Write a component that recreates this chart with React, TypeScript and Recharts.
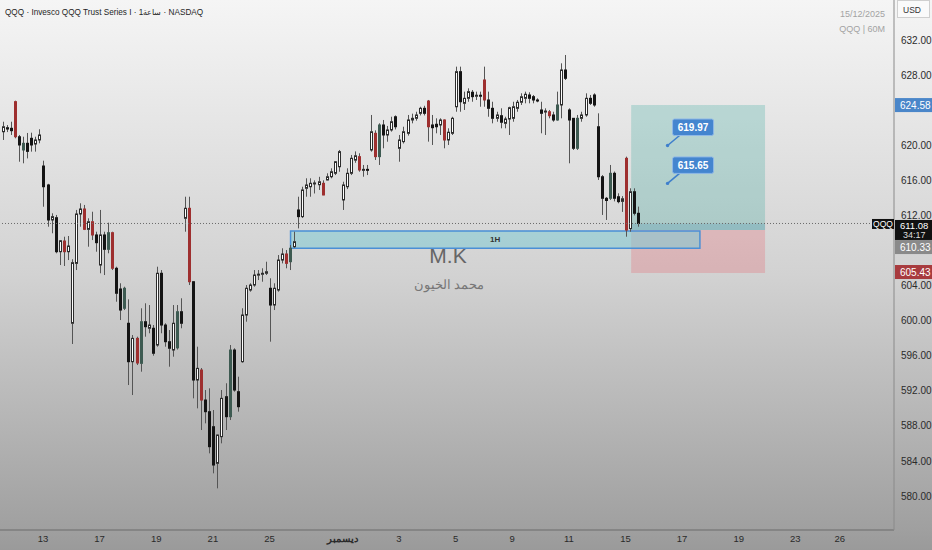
import React from "react";
import {
  ComposedChart,
  Bar,
  XAxis,
  YAxis,
  ReferenceArea,
  ReferenceLine,
  ReferenceDot,
} from "recharts";

const FONT = "'Liberation Sans', Arial, sans-serif";

// hourly candles, bar index 0 = 13 Nov 09:30
const FIRST_BAR = -10;

const opens = [
  621.54, 622.0, 621.93, 624.97, 620.97, 619.46, 620.22, 620.79, 620.14, 620.6,
  617.63, 615.47, 611.48, 611.74, 607.86, 609.08, 607.86, 599.7, 606.53, 612.16,
  612.73, 610.41, 611.28, 609.77, 606.34, 609.77, 608.13, 610.03, 605.97, 603.61,
  601.41, 599.7, 595.32, 597.98, 595.13, 599.88, 599.13, 599.13, 597.22, 605.4,
  599.5, 597.6, 596.65, 596.9, 601.02, 611.67, 612.81, 604.44, 593.23, 594.37,
  590.95, 589.62, 587.91, 583.73, 586.77, 591.33, 589.05, 596.65, 591.9, 595.32,
  600.64, 603.49, 604.06, 605.2, 605.35, 605.4, 603.69, 601.78, 603.49, 606.91,
  607.6, 606.72, 608.43, 612.62, 611.86, 615.09, 615.27, 615.66, 615.5, 615.66,
  616.04, 616.41, 616.8, 617.55, 613.76, 615.27, 616.8, 618.3, 618.7, 617.18,
  617.25, 619.46, 621.36, 618.7, 622.31, 621.17, 621.74, 623.25, 619.65, 620.41,
  621.36, 622.88, 623.07, 623.64, 624.21, 625.04, 622.31, 622.39, 622.31, 622.88,
  620.6, 621.36, 624.39, 628.39, 624.78, 625.35, 626.04, 625.6, 625.7, 627.44,
  625.16, 624.21, 623.07, 623.37, 622.5, 622.99, 623.07, 624.21, 624.9, 625.35,
  625.73, 625.54, 625.16, 624.02, 623.8, 623.82, 623.45, 622.88, 624.59, 628.58,
  624.02, 623.07, 619.65, 623.07, 623.45, 625.35, 625.73, 622.11, 616.41, 613.95,
  613.95, 616.8, 614.13, 613.6, 618.51, 610.5, 614.7, 612.24,
];

const highs = [
  622.68, 622.3, 622.68, 625.08, 621.17, 620.97, 621.4, 621.43, 620.97, 621.82,
  618.24, 615.6, 612.24, 612.05, 609.19, 609.57, 609.65, 607.0, 612.62, 613.38,
  613.19, 611.67, 612.42, 610.14, 612.62, 610.14, 611.17, 610.14, 606.15, 604.26,
  603.87, 602.43, 598.36, 598.17, 601.41, 601.98, 601.78, 599.5, 606.15, 605.77,
  599.7, 598.93, 601.78, 601.78, 602.55, 614.13, 614.13, 604.5, 597.03, 594.6,
  592.09, 592.28, 589.81, 587.0, 592.09, 592.86, 597.22, 596.85, 593.61, 601.41,
  604.06, 604.26, 605.77, 605.77, 605.97, 606.72, 604.83, 604.26, 607.48, 608.25,
  608.05, 608.62, 610.14, 614.13, 615.27, 616.23, 616.23, 616.0, 616.4, 616.0,
  616.8, 617.37, 618.2, 619.46, 615.84, 617.37, 618.89, 619.3, 619.08, 617.75,
  617.75, 623.45, 621.7, 622.5, 622.88, 622.2, 623.25, 623.4, 621.17, 622.11,
  623.45, 623.6, 623.82, 624.39, 624.5, 625.16, 623.45, 623.07, 623.07, 622.95,
  621.93, 623.25, 628.96, 628.96, 626.11, 626.49, 626.3, 626.11, 626.11, 628.96,
  626.11, 624.96, 623.82, 624.21, 623.25, 624.39, 624.96, 625.16, 625.92, 626.11,
  626.04, 625.73, 625.35, 624.96, 624.21, 624.02, 623.82, 626.11, 629.34, 630.29,
  624.21, 623.1, 623.45, 623.82, 625.92, 625.73, 625.92, 623.64, 616.6, 614.1,
  617.75, 617.0, 614.52, 614.2, 618.7, 615.09, 615.09, 613.0,
];

const lows = [
  620.6, 621.5, 621.17, 620.79, 618.12, 617.94, 618.5, 619.27, 619.27, 620.22,
  612.99, 610.71, 609.96, 607.68, 606.34, 606.23, 606.91, 597.34, 605.77, 610.71,
  610.33, 608.43, 609.19, 607.86, 605.4, 605.2, 607.68, 605.77, 602.16, 600.07,
  601.21, 592.66, 591.52, 594.94, 594.18, 598.17, 598.56, 596.0, 597.03, 598.56,
  597.03, 594.75, 595.89, 596.7, 599.13, 610.14, 604.06, 591.14, 590.0, 587.53,
  588.29, 584.87, 582.59, 580.88, 586.01, 587.53, 588.67, 591.9, 589.62, 595.2,
  599.88, 603.3, 603.87, 604.63, 604.44, 605.2, 597.6, 601.21, 603.3, 606.53,
  605.97, 605.77, 608.3, 610.52, 611.7, 614.13, 614.13, 614.5, 614.9, 614.3,
  616.0, 616.23, 616.6, 616.98, 612.62, 615.0, 616.6, 618.0, 616.98, 616.41,
  616.6, 619.27, 618.32, 617.75, 619.65, 620.4, 621.55, 621.8, 618.12, 620.2,
  621.1, 622.5, 622.8, 623.4, 623.4, 620.41, 620.03, 621.36, 621.17, 619.65,
  620.03, 621.17, 623.82, 623.82, 624.02, 624.96, 624.96, 625.16, 624.39, 624.39,
  623.25, 622.5, 622.68, 621.93, 621.93, 621.17, 622.68, 623.82, 624.59, 624.78,
  624.78, 624.78, 624.9, 621.36, 621.17, 623.07, 622.68, 622.8, 623.07, 627.44,
  617.94, 619.46, 619.46, 622.68, 623.25, 624.59, 624.39, 616.04, 612.05, 611.48,
  613.76, 613.6, 613.38, 612.4, 609.57, 610.14, 612.0, 610.71,
];

const closes = [
  622.11, 621.85, 621.66, 620.97, 620.03, 620.22, 619.3, 620.03, 620.6, 621.17,
  615.27, 611.48, 611.86, 607.86, 609.11, 607.86, 608.51, 606.61, 612.16, 612.73,
  610.41, 611.28, 609.77, 608.89, 609.77, 608.13, 610.03, 605.97, 603.12, 601.21,
  603.69, 595.32, 597.98, 595.17, 599.88, 599.31, 599.5, 596.28, 605.4, 599.5,
  597.6, 596.85, 599.7, 601.02, 599.7, 612.81, 604.44, 593.23, 594.56, 590.95,
  589.62, 585.63, 583.54, 586.96, 591.14, 589.05, 596.65, 592.09, 590.19, 600.64,
  603.69, 604.06, 605.2, 605.3, 605.4, 605.58, 601.78, 603.69, 606.91, 607.6,
  606.53, 608.25, 609.0, 611.86, 614.9, 615.47, 615.66, 615.7, 615.84, 614.33,
  616.41, 616.98, 618.12, 619.27, 615.47, 616.8, 618.51, 618.8, 617.18, 617.25,
  617.2, 621.54, 618.7, 622.31, 621.17, 621.74, 622.68, 622.11, 620.6, 621.54,
  622.88, 623.07, 623.45, 624.21, 623.64, 622.11, 622.0, 622.11, 622.88, 620.6,
  621.48, 623.07, 628.39, 624.96, 625.35, 626.11, 625.54, 625.7, 625.6, 625.16,
  624.21, 623.07, 623.45, 622.62, 622.99, 624.28, 624.39, 624.9, 625.53, 625.81,
  625.35, 625.16, 625.1, 623.64, 623.9, 623.37, 622.88, 624.59, 628.58, 627.63,
  622.88, 619.65, 623.07, 623.45, 625.35, 624.78, 624.59, 616.41, 613.95, 613.7,
  616.8, 613.95, 613.57, 613.9, 610.33, 614.7, 612.24, 611.08,
];

// w = hollow up, b = black down, r = red down, g = dark up
const kinds = (
  "wbbrbgbbww" + "bbwbwrwwww" + "rwrbwbgrbb" + "gbwrgbwbwb" + "bbwgbwrbwr" +
  "bbbwwbgbbw" + "wwwwwwbwww" + "rgwbwwwwwr" + "wwwwwwwwrw" + "bwrgbwwbww" +
  "wwwwbrbbwr" + "wwwbwwbwbr" + "bbwbwwwwww" + "bbbbwrbgwb" + "bbgwwbbbbb" +
  "gbbwrwbb"
).split("");

const dayTicks = [0, 14, 28, 42, 56, 74, 88, 102, 116, 130, 144, 158, 172, 186, 197];
const dayLabels = ["13", "17", "19", "21", "25", "ديسمبر", "3", "5", "9", "11", "15", "17", "19", "23", "26"];
const priceTicks = [580, 584, 588, 592, 596, 600, 604, 612, 616, 620, 628, 632];

const lastPrice = 611.08;
const countdown = "34:17";
const entryPrice = 610.33;
const targetPrice = 624.58;
const stopPrice = 605.43;
const callouts = [619.97, 615.65];

const X_MIN = -10.63;
const X_MAX = 210.38;
const Y_MIN = 576.13;
const Y_MAX = 636.56;

const candles = opens.map((o, k) => ({
  idx: FIRST_BAR + k,
  open: o,
  high: highs[k],
  low: lows[k],
  close: closes[k],
  kind: kinds[k],
  range: [lows[k], highs[k]],
}));

const FILLS: Record<string, string> = { b: "#141414", r: "#9e2f2f", g: "#3d5a51" };

function Candle(props: any) {
  const { x, y, width, height, payload } = props;
  if (!payload) return null;
  const { open, close, high, low, kind } = payload;
  const top = Math.min(y, y + height);
  const ppu = Math.abs(height) / (high - low);
  const cx = Math.round(x + width / 2) + 0.5;
  const at = (v: number) => top + (high - v) * ppu;
  const bTop = at(Math.max(open, close));
  const bBot = Math.max(at(Math.min(open, close)), bTop + 1);
  return (
    <g>
      <line x1={cx} x2={cx} y1={at(high)} y2={bTop} stroke="#555" strokeWidth={1} />
      <line x1={cx} x2={cx} y1={bBot} y2={at(low)} stroke="#555" strokeWidth={1} />
      {kind === "w" ? (
        <rect x={cx - 1} y={bTop} width={2} height={bBot - bTop} fill="#fff" stroke="#2c2c2c" strokeWidth={1} />
      ) : (
        <rect x={cx - 1.5} y={bTop - 0.5} width={3} height={bBot - bTop + 1} fill={FILLS[kind]} />
      )}
    </g>
  );
}

function DayTick(props: any) {
  const { x, y, payload } = props;
  const label = dayLabels[dayTicks.indexOf(payload.value)] ?? "";
  const month = label === "ديسمبر";
  return (
    <text x={x} y={y + 12} textAnchor="middle" fontSize={9.5} fill="#2a2a2a" fontWeight={month ? "bold" : "normal"} fontFamily={FONT}>
      {label}
    </text>
  );
}

function AxisTag({ cx, cy, text, bg, dy = 0 }: any) {
  return (
    <g>
      <rect x={cx + 1} y={cy + dy - 7} width={38} height={14} fill={bg} />
      <text x={cx + 6} y={cy + dy + 3.5} fill="#fff" fontSize={10} fontFamily={FONT}>
        {text}
      </text>
    </g>
  );
}

function LastTag({ cx, cy }: any) {
  return (
    <g>
      <rect x={cx - 22} y={cy - 4.5} width={22} height={10} fill="#111" />
      <text x={cx - 11} y={cy + 3.5} textAnchor="middle" fill="#fff" fontSize={8.5} fontFamily={FONT}>QQQ</text>
      <rect x={cx + 1} y={cy - 3.5} width={38} height={20} fill="#111" />
      <text x={cx + 6} y={cy + 6} fill="#fff" fontSize={9.5} fontFamily={FONT}>{lastPrice.toFixed(2)}</text>
      <text x={cx + 9} y={cy + 15} fill="#ddd" fontSize={9} fontFamily={FONT}>{countdown}</text>
    </g>
  );
}

function Callout({ cx, cy, text }: any) {
  return (
    <g>
      <line x1={cx} y1={cy} x2={cx + 12} y2={cy - 10} stroke="#3f7fcc" strokeWidth={1.6} />
      <circle cx={cx} cy={cy} r={1.7} fill="#3f7fcc" />
      <rect x={cx + 5} y={cy - 26.5} width={41} height={16.5} rx={2} fill="#4485cf" stroke="#8fb8e6" strokeWidth={1} />
      <text x={cx + 25.5} y={cy - 14.5} textAnchor="middle" fill="#fff" fontSize={10} fontWeight="bold" fontFamily={FONT}>
        {text}
      </text>
    </g>
  );
}

export default function App() {
  return (
    <div
      style={{
        position: "relative",
        width: 932,
        height: 550,
        background: "linear-gradient(#f5f5f5 0%, #d2d2d2 50%, #a0a0a0 96%, #9a9a9a 100%)",
        fontFamily: FONT,
        overflow: "hidden",
      }}
    >
      <style>{"body{margin:0}"}</style>
      <ComposedChart width={932} height={550} data={candles} margin={{ top: 0, right: 0, left: 0, bottom: 0 }}>
        <XAxis
          dataKey="idx"
          type="number"
          domain={[X_MIN, X_MAX]}
          allowDataOverflow
          ticks={dayTicks}
          interval={0}
          tick={<DayTick />}
          tickLine={false}
          tickSize={0}
          tickMargin={0}
          height={20}
          axisLine={{ stroke: "#7c7c7c", strokeWidth: 1.5 }}
        />
        <YAxis
          orientation="right"
          width={38}
          domain={[Y_MIN, Y_MAX]}
          allowDataOverflow
          ticks={priceTicks}
          interval={0}
          tickFormatter={(v: number) => v.toFixed(2)}
          tick={{ fill: "#2b2b2b", fontSize: 10, fontFamily: FONT }}
          tickLine={false}
          tickSize={0}
          tickMargin={7}
          axisLine={{ stroke: "#8a8a8a" }}
        />
        <ReferenceArea x1={145.4} x2={178.5} y1={entryPrice} y2={targetPrice} fill="rgb(0,150,136)" fillOpacity={0.2} stroke="none" />
        <ReferenceArea x1={145.4} x2={178.5} y1={entryPrice} y2={lastPrice} fill="rgb(0,110,160)" fillOpacity={0.15} stroke="none" />
        <ReferenceArea x1={145.4} x2={178.5} y1={stopPrice} y2={entryPrice} fill="rgb(242,54,69)" fillOpacity={0.2} stroke="none" />
        <Bar dataKey="range" barSize={3} shape={<Candle />} isAnimationActive={false} />
        <ReferenceArea
          x1={61.2}
          x2={162.4}
          y1={608.25}
          y2={610.22}
          fill="#7fcbd3"
          fillOpacity={0.55}
          stroke="#4a8fd6"
          strokeWidth={1.5}
          label={{ value: "1H", position: "center", fill: "#333", fontSize: 8, fontWeight: "bold" }}
        />
        <ReferenceLine y={lastPrice} stroke="#6a6a6a" strokeDasharray="1 2" />
        {callouts.map((p) => (
          <ReferenceDot key={p} x={154.4} y={p} ifOverflow="visible" shape={(s: any) => <Callout {...s} text={p.toFixed(2)} />} />
        ))}
        <ReferenceDot x={X_MAX} y={targetPrice} ifOverflow="visible" shape={(s: any) => <AxisTag {...s} text={targetPrice.toFixed(2)} bg="#4a86c9" />} />
        <ReferenceDot x={X_MAX} y={entryPrice} ifOverflow="visible" shape={(s: any) => <AxisTag {...s} text={entryPrice.toFixed(2)} bg="#8a8a8a" dy={17} />} />
        <ReferenceDot x={X_MAX} y={stopPrice} ifOverflow="visible" shape={(s: any) => <AxisTag {...s} text={stopPrice.toFixed(2)} bg="#a83b3e" dy={-1} />} />
        <ReferenceDot x={X_MAX} y={lastPrice} ifOverflow="visible" shape={(s: any) => <LastTag {...s} />} />
      </ComposedChart>

      <div style={{ position: "absolute", left: 5, top: 7, fontSize: 8.2, color: "#1f1f1f", whiteSpace: "nowrap" }}>
        QQQ · Invesco QQQ Trust Series I · 1ساعة · NASDAQ
      </div>
      <div style={{ position: "absolute", right: 47, top: 9, fontSize: 9, color: "#a3a3a3", textAlign: "right" }}>
        15/12/2025
      </div>
      <div style={{ position: "absolute", right: 47, top: 24, fontSize: 9, color: "#a3a3a3", textAlign: "right" }}>
        QQQ | 60M
      </div>
      <div
        style={{
          position: "absolute",
          left: 897,
          top: 0,
          width: 33,
          height: 18,
          boxSizing: "border-box",
          border: "1px solid #cfcfcf",
          background: "#fafafa",
          fontSize: 8.5,
          color: "#333",
          padding: "4px 0 0 5px",
        }}
      >
        USD
      </div>
      <div style={{ position: "absolute", left: 398, width: 100, top: 244, textAlign: "center", fontSize: 21, color: "#666" }}>
        M.K
      </div>
      <div style={{ position: "absolute", left: 399, width: 100, top: 277, textAlign: "center", fontSize: 12.5, color: "#777" }}>
        محمد الخيون
      </div>
    </div>
  );
}
